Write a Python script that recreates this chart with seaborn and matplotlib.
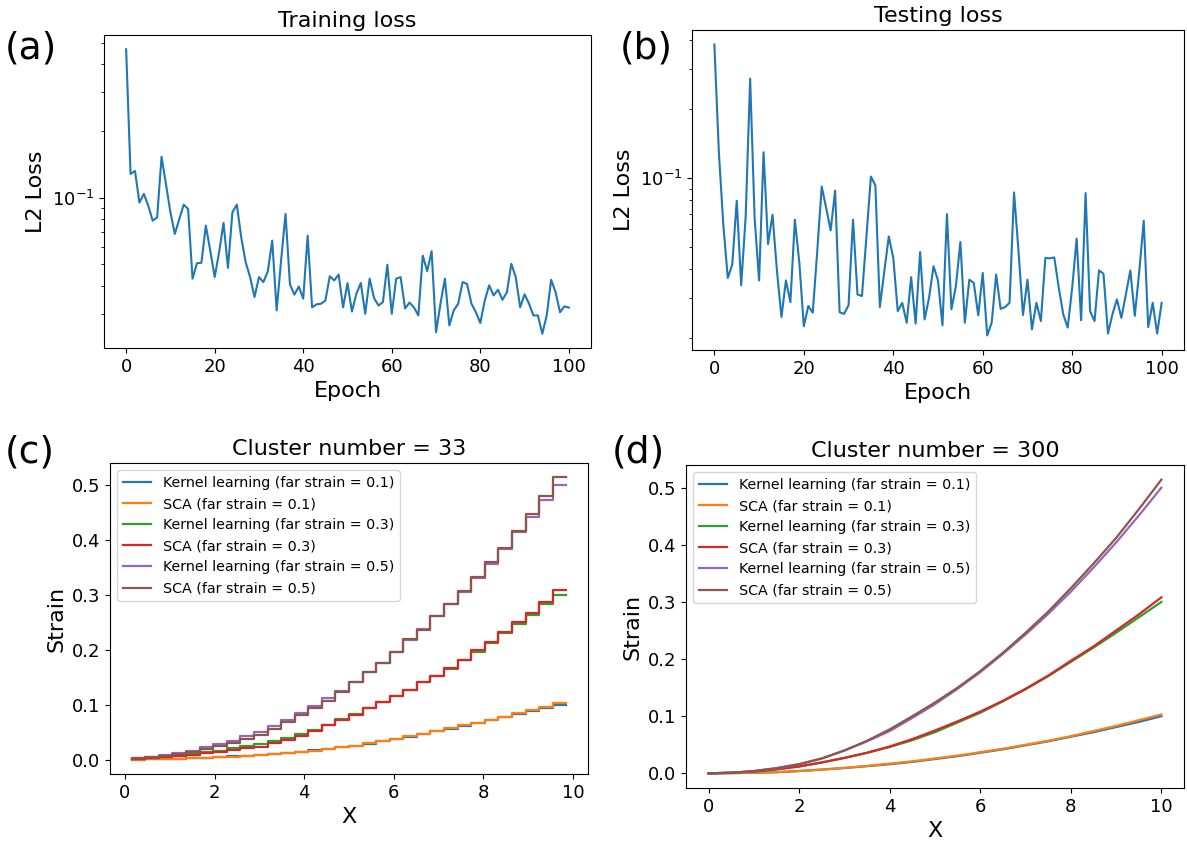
import numpy as np
import pandas as pd
import matplotlib
matplotlib.use("Agg")
import matplotlib.pyplot as plt
import seaborn as sns

# ---------------- data ----------------
epochs = list(range(101))

train_loss = [0.468, 0.128, 0.132, 0.095, 0.104, 0.092, 0.0787, 0.0815, 0.153, 0.115,
              0.0859, 0.0686, 0.080, 0.093, 0.0889, 0.0431, 0.0506, 0.0508, 0.0748, 0.0577,
              0.0438, 0.0567, 0.0769, 0.0482, 0.0859, 0.093, 0.0662, 0.0511, 0.0438, 0.0356,
              0.0438, 0.0416, 0.0465, 0.064, 0.031, 0.052, 0.0845, 0.0406, 0.0365, 0.0397,
              0.035, 0.0674, 0.032, 0.033, 0.0332, 0.0343, 0.0442, 0.0423, 0.045, 0.032,
              0.0411, 0.0306, 0.0368, 0.0412, 0.0299, 0.0431, 0.0352, 0.0326, 0.0338, 0.0498,
              0.0299, 0.0431, 0.0438, 0.0316, 0.0336, 0.032, 0.0294, 0.0548, 0.0466, 0.0573,
              0.0247, 0.0332, 0.0431, 0.0265, 0.031, 0.0332, 0.0416, 0.0408, 0.0332, 0.0304,
              0.0272, 0.0343, 0.0402, 0.0362, 0.0384, 0.0346, 0.0374, 0.0503, 0.0438, 0.032,
              0.0366, 0.0332, 0.0294, 0.0294, 0.0243, 0.0294, 0.0426, 0.0374, 0.0304, 0.0323,
              0.0319]

test_loss = [0.383, 0.1306, 0.0627, 0.0367, 0.042, 0.0797, 0.0341, 0.0681, 0.272, 0.067,
             0.0358, 0.1297, 0.0516, 0.0693, 0.0393, 0.0248, 0.0358, 0.0288, 0.0659, 0.0427,
             0.0226, 0.0277, 0.0259, 0.048, 0.092, 0.0741, 0.0592, 0.0883, 0.026, 0.0256,
             0.0279, 0.0659, 0.0311, 0.0306, 0.0557, 0.1017, 0.093, 0.0274, 0.0393, 0.0557,
             0.0449, 0.0263, 0.0286, 0.0234, 0.037, 0.0232, 0.0476, 0.0242, 0.0301, 0.0413,
             0.0358, 0.0228, 0.0697, 0.0268, 0.0338, 0.0527, 0.0234, 0.0361, 0.0349, 0.0252,
             0.0386, 0.0206, 0.0234, 0.038, 0.0269, 0.0274, 0.0286, 0.0867, 0.048, 0.0253,
             0.0361, 0.0219, 0.0286, 0.0238, 0.0449, 0.0447, 0.0451, 0.0333, 0.0255, 0.0223,
             0.0333, 0.0545, 0.024, 0.0861, 0.0263, 0.0238, 0.0396, 0.0383, 0.021, 0.0255,
             0.0296, 0.0246, 0.0311, 0.0396, 0.0251, 0.0393, 0.0652, 0.0224, 0.0286, 0.021,
             0.0286]

series_labels = ["Kernel learning (far strain = 0.1)", "SCA (far strain = 0.1)",
                 "Kernel learning (far strain = 0.3)", "SCA (far strain = 0.3)",
                 "Kernel learning (far strain = 0.5)", "SCA (far strain = 0.5)"]

# (c) cluster number = 33 : cluster centres
x33 = [0.152, 0.455, 0.758, 1.061, 1.364, 1.667, 1.970, 2.273, 2.576, 2.879,
       3.182, 3.485, 3.788, 4.091, 4.394, 4.697, 5.000, 5.303, 5.606, 5.909,
       6.212, 6.515, 6.818, 7.121, 7.424, 7.727, 8.030, 8.333, 8.636, 8.939,
       9.242, 9.545, 9.848]
kl_01_33 = [0.0002, 0.0005, 0.001, 0.0016, 0.0022, 0.003, 0.004, 0.0052, 0.0064, 0.0076,
            0.0092, 0.0108, 0.0128, 0.015, 0.0175, 0.0202, 0.0232, 0.0262, 0.0298, 0.0338,
            0.038, 0.0425, 0.0475, 0.0525, 0.057, 0.0625, 0.0675, 0.0725, 0.0775, 0.0835,
            0.0890, 0.0940, 0.0990]
sca_01_33 = [0.0002, 0.0005, 0.001, 0.0015, 0.002, 0.003, 0.004, 0.005, 0.006, 0.007,
             0.0085, 0.010, 0.012, 0.014, 0.017, 0.020, 0.023, 0.026, 0.030, 0.034,
             0.038, 0.043, 0.048, 0.053, 0.058, 0.063, 0.068, 0.073, 0.079, 0.085,
             0.091, 0.097, 0.103]
kl_03_33 = [0.001, 0.002, 0.004, 0.006, 0.008, 0.011, 0.014, 0.017, 0.021, 0.025,
            0.029, 0.034, 0.040, 0.047, 0.055, 0.064, 0.074, 0.084, 0.095, 0.106,
            0.117, 0.128, 0.141, 0.153, 0.166, 0.181, 0.197, 0.213, 0.230, 0.248,
            0.264, 0.283, 0.300]
sca_03_33 = [0.001, 0.002, 0.003, 0.005, 0.007, 0.009, 0.012, 0.015, 0.018, 0.021,
             0.024, 0.030, 0.036, 0.044, 0.053, 0.063, 0.073, 0.082, 0.094, 0.106,
             0.116, 0.128, 0.141, 0.153, 0.167, 0.182, 0.199, 0.215, 0.232, 0.250,
             0.267, 0.287, 0.309]
kl_05_33 = [0.001, 0.003, 0.006, 0.009, 0.013, 0.017, 0.023, 0.029, 0.035, 0.043,
            0.051, 0.061, 0.073, 0.085, 0.098, 0.112, 0.126, 0.142, 0.159, 0.177,
            0.197, 0.218, 0.238, 0.262, 0.283, 0.306, 0.330, 0.357, 0.384, 0.414,
            0.441, 0.472, 0.500]
sca_05_33 = [0.001, 0.003, 0.005, 0.008, 0.011, 0.015, 0.020, 0.025, 0.031, 0.038,
             0.046, 0.056, 0.069, 0.081, 0.094, 0.108, 0.124, 0.141, 0.159, 0.177,
             0.197, 0.219, 0.237, 0.261, 0.283, 0.307, 0.332, 0.359, 0.386, 0.417,
             0.447, 0.479, 0.514]

# (d) cluster number = 300 : curve sampled every 0.5
x300 = [0.0, 0.5, 1.0, 1.5, 2.0, 2.5, 3.0, 3.5, 4.0, 4.5, 5.0,
        5.5, 6.0, 6.5, 7.0, 7.5, 8.0, 8.5, 9.0, 9.5, 10.0]
kl_01_300 = [0.0, 0.0003, 0.001, 0.002, 0.004, 0.0065, 0.0092, 0.0125, 0.016, 0.020, 0.025,
             0.030, 0.036, 0.042, 0.049, 0.056, 0.064, 0.072, 0.081, 0.090, 0.100]
sca_01_300 = [0.0, 0.0003, 0.001, 0.002, 0.004, 0.0067, 0.0096, 0.013, 0.017, 0.021, 0.026,
              0.031, 0.037, 0.043, 0.050, 0.057, 0.065, 0.074, 0.083, 0.093, 0.103]
kl_03_300 = [0.0, 0.001, 0.003, 0.007, 0.012, 0.019, 0.027, 0.036, 0.046, 0.058, 0.072,
             0.089, 0.106, 0.126, 0.147, 0.170, 0.195, 0.220, 0.246, 0.273, 0.300]
sca_03_300 = [0.0, 0.001, 0.003, 0.007, 0.012, 0.019, 0.027, 0.036, 0.047, 0.060, 0.075,
              0.091, 0.108, 0.127, 0.148, 0.171, 0.197, 0.222, 0.250, 0.278, 0.308]
kl_05_300 = [0.0, 0.001, 0.004, 0.009, 0.016, 0.026, 0.040, 0.056, 0.074, 0.097, 0.121,
             0.148, 0.177, 0.209, 0.243, 0.279, 0.318, 0.360, 0.404, 0.451, 0.500]
sca_05_300 = [0.0, 0.001, 0.004, 0.009, 0.016, 0.026, 0.040, 0.057, 0.077, 0.100, 0.124,
              0.150, 0.179, 0.211, 0.246, 0.283, 0.324, 0.367, 0.412, 0.462, 0.514]

colors = ["#1f77b4", "#ff7f0e", "#2ca02c", "#d62728", "#9467bd", "#8c564b"]

# ---------------- figure ----------------
plt.rcParams['font.family'] = ['DejaVu Sans']
fig = plt.figure(figsize=(11.87, 8.47), dpi=100)

ax_a = fig.add_axes([104/1187, 1 - 348/847, 487/1187, 313/847])
ax_b = fig.add_axes([692/1187, 1 - 350/847, 492/1187, 320/847])
ax_c = fig.add_axes([110/1187, 1 - 774/847, 478/1187, 311/847])
ax_d = fig.add_axes([686/1187, 1 - 788/847, 498/1187, 323/847])

TICK = 13
LAB = 16

for ax, vals, title in [(ax_a, train_loss, "Training loss"), (ax_b, test_loss, "Testing loss")]:
    sns.lineplot(x=epochs, y=vals, ax=ax, color="#1f77b4", linewidth=1.5)
    ax.set_yscale("log")
    ax.set_xlabel("Epoch", fontsize=LAB)
    ax.set_ylabel("L2 Loss", fontsize=LAB)
    ax.set_title(title, fontsize=LAB)
    ax.set_xticks([0, 20, 40, 60, 80, 100])
    ax.tick_params(labelsize=TICK)

def long_df(x, ys):
    frames = []
    for lab, y in zip(series_labels, ys):
        frames.append(pd.DataFrame({"x": x, "y": y, "series": lab}))
    return pd.concat(frames, ignore_index=True)

df33 = long_df(x33, [kl_01_33, sca_01_33, kl_03_33, sca_03_33, kl_05_33, sca_05_33])
df300 = long_df(x300, [kl_01_300, sca_01_300, kl_03_300, sca_03_300, kl_05_300, sca_05_300])

sns.lineplot(data=df33, x="x", y="y", hue="series", hue_order=series_labels,
             palette=colors, ax=ax_c, legend=False, drawstyle="steps-pre", linewidth=1.6)
sns.lineplot(data=df300, x="x", y="y", hue="series", hue_order=series_labels,
             palette=colors, ax=ax_d, legend=False, linewidth=1.6)

for ax, title in [(ax_c, "Cluster number = 33"), (ax_d, "Cluster number = 300")]:
    ax.set_xlabel("X", fontsize=LAB)
    ax.set_ylabel("Strain", fontsize=LAB)
    ax.set_title(title, fontsize=LAB)
    ax.set_xticks([0, 2, 4, 6, 8, 10])
    ax.set_yticks([0.0, 0.1, 0.2, 0.3, 0.4, 0.5])
    ax.tick_params(labelsize=TICK)
    ax.legend(ax.lines[:6], series_labels, loc="upper left", fontsize=10.3)

for lab, xy in [("(a)", (5, 58)), ("(b)", (620, 58)), ("(c)", (5, 462)), ("(d)", (612, 462))]:
    fig.text(xy[0] / 1187, 1 - xy[1] / 847, lab, fontsize=27, ha="left", va="baseline")

fig.savefig("out.png", dpi=100)
